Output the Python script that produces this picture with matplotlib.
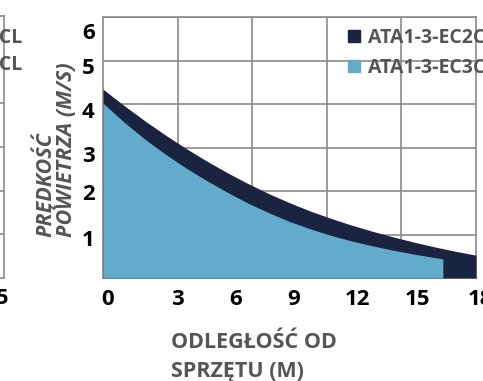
import matplotlib
matplotlib.use("Agg")
import matplotlib.pyplot as plt
from matplotlib.lines import Line2D
from matplotlib.transforms import ScaledTranslation
import numpy as np

# ---- data ----
x_dark = [0, 1, 2, 3, 4, 5, 6, 7, 8, 9, 10, 11, 12, 13, 14, 15, 16, 17, 18]
y_dark = [4.34, 3.97, 3.62, 3.29, 2.98, 2.69, 2.42, 2.17, 1.94, 1.73,
          1.54, 1.37, 1.215, 1.075, 0.945, 0.825, 0.715, 0.615, 0.525]
x_light = [0, 1, 2, 3, 4, 5, 6, 7, 8, 9, 10, 11, 12, 13, 14, 15, 16, 16.4]
y_light = [4.02, 3.59, 3.20, 2.85, 2.53, 2.24, 1.97, 1.72, 1.50, 1.30,
           1.13, 0.98, 0.85, 0.74, 0.64, 0.55, 0.47, 0.44]
series_names = ["ATA1-3-EC2C", "ATA1-3-EC3C"]
x_ticks = [0, 3, 6, 9, 12, 15, 18]
y_ticks = [1, 2, 3, 4, 5, 6]
x_label = "ODLEGŁOŚĆ OD\nSPRZĘTU (M)"
y_label = "PRĘDKOŚĆ\nPOWIETRZA (M/S)"

DARK = "#1a2340"
LIGHT = "#62abcb"
GRID = "#8a8a8a"
TXT = "#555555"
FONT = "Open Sans"

W, H = 483, 381
fig = plt.figure(figsize=(W / 100, H / 100), dpi=100)
plt.rcParams['font.family'] = [FONT, 'DejaVu Sans']

def px_rect(l, t, r, b):
    return [l / W, (H - b) / H, (r - l) / W, (b - t) / H]

# ---- partial left panel (neighbouring chart) ----
axl = fig.add_axes(px_rect(-100, 16, 4, 278))
axl.set_xlim(0, 1)
axl.set_ylim(0, 6)
axl.set_xticks([])
axl.set_yticks([1, 2, 3, 4])
axl.tick_params(left=False, labelleft=False)
axl.grid(axis='y', color=GRID, lw=1.2)
for s in axl.spines.values():
    s.set_color(GRID)
    s.set_linewidth(1.2)
fig.text(22 / W, 1 - 38 / H, "ATA1-3-EC2CL", ha='right', va='center',
         fontsize=14, fontweight='bold', color=TXT)
fig.text(22 / W, 1 - 65 / H, "ATA1-3-EC3CL", ha='right', va='center',
         fontsize=14, fontweight='bold', color=TXT)
fig.text(9 / W, 1 - 298 / H, "15", ha='right', va='center',
         fontsize=16, fontweight='bold', color='black')

# ---- main chart ----
ax = fig.add_axes(px_rect(103, 17, 476, 278))
ax.set_xlim(0, 18)
ax.set_ylim(0, 6)
ax.fill_between(x_dark, y_dark, 0, color=DARK, lw=0, zorder=3)
ax.fill_between(x_light, y_light, 0, color=LIGHT, lw=0, zorder=4)

ax.set_xticks(x_ticks)
ax.set_xticklabels([str(v) for v in x_ticks])
ax.set_xticks(np.linspace(0, 18, 6), minor=True)
ax.set_yticks(y_ticks)
ax.set_yticklabels([str(v) for v in y_ticks])
ax.tick_params(axis='both', which='both', length=0)
ax.tick_params(axis='x', which='major', pad=8)
ax.tick_params(axis='y', pad=6)
ax.grid(axis='x', which='minor', color=GRID, lw=1.2, zorder=1)
ax.grid(axis='y', which='major', color=GRID, lw=1.2, zorder=1)
ax.set_axisbelow(True)
for s in ax.spines.values():
    s.set_color(GRID)
    s.set_linewidth(1.2)
    s.set_zorder(2)

for lab in ax.get_xticklabels() + ax.get_yticklabels():
    lab.set_fontsize(16)
    lab.set_fontweight('bold')
    lab.set_color('black')

xoffs = [5, 12, 8, 4, 6, 4, 4]
for lab, dx in zip(ax.get_xticklabels(), xoffs):
    lab.set_transform(lab.get_transform() + ScaledTranslation(dx / 100, 0, fig.dpi_scale_trans))
yoffs = [3, 1, 6, 6, 6, 14]
for lab, dy in zip(ax.get_yticklabels(), yoffs):
    lab.set_transform(lab.get_transform() + ScaledTranslation(0, -dy / 100, fig.dpi_scale_trans))

# axis titles
fig.text(171 / W, 1 - 357 / H, x_label, ha='left', va='center', fontsize=15.5,
         fontweight='bold', color=TXT, linespacing=1.5)
fig.text(54 / W, 1 - 237 / H, y_label, ha='center', va='bottom', rotation=90,
         fontsize=15.5, fontweight='bold', fontstyle='italic', color=TXT,
         multialignment='left', linespacing=1.0)

# legend
handles = [Line2D([], [], ls='none', marker='s', markersize=8.5, color=DARK),
           Line2D([], [], ls='none', marker='s', markersize=8.5, color=LIGHT)]
leg = fig.legend(handles, series_names, loc='upper left',
                 bbox_to_anchor=(344 / W, 1 - 28 / H), frameon=False,
                 borderpad=0, borderaxespad=0, handlelength=1.0,
                 handletextpad=0.25, labelspacing=0.5,
                 prop={'family': FONT, 'weight': 'bold', 'size': 14})
for t in leg.get_texts():
    t.set_color(TXT)

fig.savefig("out.png", dpi=100)
